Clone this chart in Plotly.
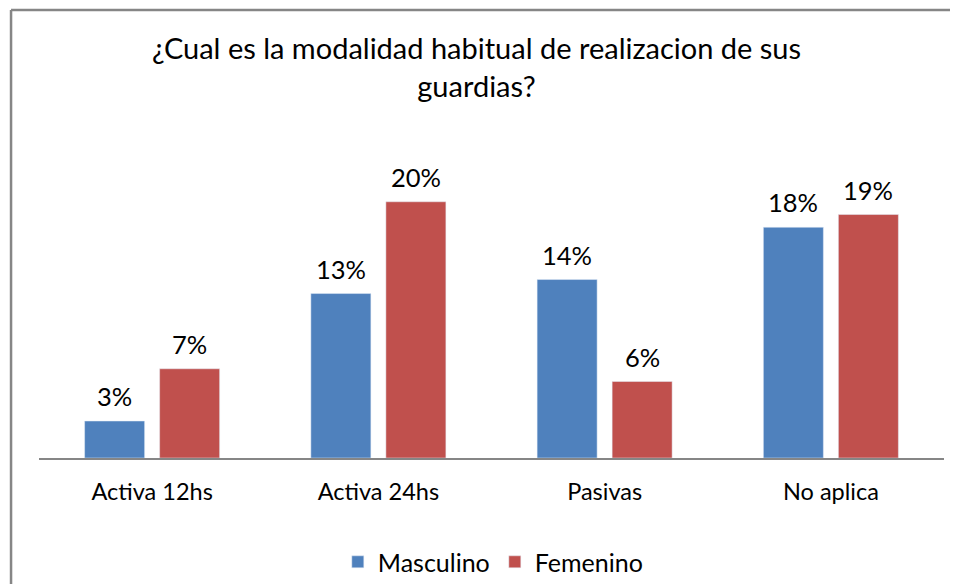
import plotly.graph_objects as go

categories = ["Activa 12hs", "Activa 24hs", "Pasivas", "No aplica"]
masculino = [2.9, 12.9, 14.0, 18.1]
femenino = [7.0, 20.1, 6.0, 19.1]
masc_labels = ["3%", "13%", "14%", "18%"]
fem_labels = ["7%", "20%", "6%", "19%"]

BLUE = "#4F81BD"
RED = "#C0504D"
FONT = "Lato, Carlito, Calibri, sans-serif"

fig = go.Figure()
fig.add_trace(go.Bar(name="Masculino", x=categories, y=masculino, marker_color=BLUE))
fig.add_trace(go.Bar(name="Femenino", x=categories, y=femenino, marker_color=RED))

annotations = []
for cat, v, lab in zip(categories, masculino, masc_labels):
    annotations.append(dict(x=cat, y=v, xref="x", yref="y", text=lab, showarrow=False,
                            xshift=-37.5, yanchor="bottom", yshift=8,
                            font=dict(size=25.5, color="#000000", family=FONT)))
for cat, v, lab in zip(categories, femenino, fem_labels):
    annotations.append(dict(x=cat, y=v, xref="x", yref="y", text=lab, showarrow=False,
                            xshift=37.5, yanchor="bottom", yshift=8,
                            font=dict(size=25.5, color="#000000", family=FONT)))

border = dict(color="#868686", width=2.5)
fig.update_layout(
    width=942, height=576,
    margin=dict(l=31, r=6, t=102, b=126, autoexpand=False),
    paper_bgcolor="white", plot_bgcolor="white",
    barmode="group", bargap=0.337, bargroupgap=0.2,
    font=dict(family=FONT, color="#000000"),
    title=dict(text="¿Cual es la modalidad habitual de realizacion de sus<br>guardias?",
               x=468.5 / 942, xanchor="center", y=1 - 51 / 576, yanchor="middle", yref="container",
               font=dict(size=29, family=FONT, color="#000000")),
    showlegend=True,
    legend=dict(orientation="h", x=0.502, xanchor="center", y=-0.299, yanchor="middle",
                font=dict(size=25, family=FONT), itemwidth=30, traceorder="normal"),
    annotations=annotations,
    shapes=[
        dict(type="line", xref="paper", yref="paper", x0=-0.0309, x1=1.1, y0=1.287, y1=1.287, line=border),
        dict(type="line", xref="paper", yref="paper", x0=-0.0309, x1=-0.0309, y0=-0.5, y1=1.287, line=border),
    ],
)
fig.update_xaxes(showline=True, linecolor="#868686", linewidth=1.5, ticks="", showgrid=False,
                 automargin=False, tickfont=dict(size=23.5, family=FONT), ticklabelstandoff=12)
fig.update_yaxes(range=[0, 27.3], visible=False, showgrid=False, zeroline=False, automargin=False)

fig.write_html("out.html")
